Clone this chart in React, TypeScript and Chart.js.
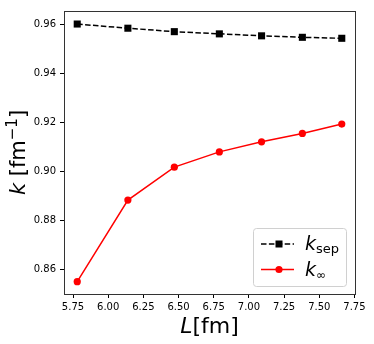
import React, { useEffect, useRef } from "react";
import { Chart, registerables } from "chart.js";

Chart.register(...registerables);

const L_VALUES = [5.78, 6.14, 6.47, 6.79, 7.09, 7.38, 7.66];
const K_SEP = [0.96, 0.9583, 0.9569, 0.956, 0.9552, 0.9546, 0.9542];
const K_INF = [0.8552, 0.8884, 0.9018, 0.908, 0.9121, 0.9155, 0.9193];
const X_TICKS = [5.75, 6.0, 6.25, 6.5, 6.75, 7.0, 7.25, 7.5, 7.75];
const Y_TICKS = [0.86, 0.88, 0.9, 0.92, 0.94, 0.96];

const FONT = "'DejaVu Sans', sans-serif";

function drawRuns(ctx: CanvasRenderingContext2D, runs: { t: string; font: string; dy?: number }[], x: number, y: number, align: "center" | "left") {
  let total = 0;
  for (const r of runs) {
    ctx.font = r.font;
    total += ctx.measureText(r.t).width;
  }
  let cx = align === "center" ? x - total / 2 : x;
  for (const r of runs) {
    ctx.font = r.font;
    ctx.fillText(r.t, cx, y + (r.dy || 0));
    cx += ctx.measureText(r.t).width;
  }
}

const decor = {
  id: "decor",
  afterDraw(chart: any) {
    const { ctx, chartArea: a } = chart;
    ctx.save();
    // frame
    ctx.strokeStyle = "#333";
    ctx.lineWidth = 1;
    ctx.strokeRect(Math.round(a.left) + 0.5, Math.round(a.top) + 0.5, Math.round(a.right - a.left), Math.round(a.bottom - a.top));

    ctx.fillStyle = "#000";
    ctx.textBaseline = "alphabetic";
    // x label
    drawRuns(
      ctx,
      [
        { t: "L", font: `italic 22px ${FONT}` },
        { t: "[fm]", font: `22px ${FONT}` },
      ],
      (a.left + a.right) / 2,
      333,
      "center"
    );
    // y label
    ctx.save();
    ctx.translate(25, (a.top + a.bottom) / 2);
    ctx.rotate(-Math.PI / 2);
    drawRuns(
      ctx,
      [
        { t: "k", font: `italic 21px ${FONT}` },
        { t: " [fm", font: `21px ${FONT}` },
        { t: "\u22121", font: `15px ${FONT}`, dy: -8 },
        { t: "]", font: `21px ${FONT}` },
      ],
      0,
      0,
      "center"
    );
    ctx.restore();

    // legend
    const bx = 253.5, by = 228.5, bw = 93, bh = 58, r = 3;
    ctx.beginPath();
    ctx.moveTo(bx + r, by);
    ctx.lineTo(bx + bw - r, by);
    ctx.quadraticCurveTo(bx + bw, by, bx + bw, by + r);
    ctx.lineTo(bx + bw, by + bh - r);
    ctx.quadraticCurveTo(bx + bw, by + bh, bx + bw - r, by + bh);
    ctx.lineTo(bx + r, by + bh);
    ctx.quadraticCurveTo(bx, by + bh, bx, by + bh - r);
    ctx.lineTo(bx, by + r);
    ctx.quadraticCurveTo(bx, by, bx + r, by);
    ctx.closePath();
    ctx.fillStyle = "rgba(255,255,255,0.8)";
    ctx.fill();
    ctx.strokeStyle = "#d0d0d0";
    ctx.lineWidth = 1;
    ctx.stroke();

    // entry 1
    const y1 = 244, y2 = 269.5;
    ctx.strokeStyle = "#000";
    ctx.lineWidth = 1.5;
    ctx.setLineDash([5.5, 2.4]);
    ctx.beginPath();
    ctx.moveTo(261, y1);
    ctx.lineTo(294, y1);
    ctx.stroke();
    ctx.setLineDash([]);
    ctx.fillStyle = "#000";
    ctx.fillRect(279 - 3.5, y1 - 3.5, 7, 7);
    // entry 2
    ctx.strokeStyle = "#ff0000";
    ctx.beginPath();
    ctx.moveTo(261, y2);
    ctx.lineTo(294, y2);
    ctx.stroke();
    ctx.fillStyle = "#ff0000";
    ctx.beginPath();
    ctx.arc(279, y2, 3.6, 0, Math.PI * 2);
    ctx.fill();

    ctx.fillStyle = "#000";
    drawRuns(ctx, [
      { t: "k", font: `italic 19px ${FONT}` },
      { t: "sep", font: `13px ${FONT}`, dy: 3 },
    ], 305, y1 + 6, "left");
    drawRuns(ctx, [
      { t: "k", font: `italic 19px ${FONT}` },
      { t: "\u221E", font: `12px ${FONT}`, dy: 3 },
    ], 305, y2 + 6, "left");
    ctx.restore();
  },
};

export default function App() {
  const ref = useRef<HTMLCanvasElement | null>(null);
  useEffect(() => {
    if (!ref.current) return;
    const chart = new Chart(ref.current, {
      type: "line",
      data: {
        datasets: [
          {
            label: "k_sep",
            data: L_VALUES.map((x, i) => ({ x, y: K_SEP[i] })),
            borderColor: "#000",
            backgroundColor: "#000",
            borderWidth: 1.5,
            borderDash: [5.5, 2.4],
            pointStyle: "rect",
            pointRadius: 5,
            pointBorderWidth: 0,
            tension: 0,
          },
          {
            label: "k_inf",
            data: L_VALUES.map((x, i) => ({ x, y: K_INF[i] })),
            borderColor: "#ff0000",
            backgroundColor: "#ff0000",
            borderWidth: 1.5,
            pointStyle: "circle",
            pointRadius: 3.6,
            pointBorderWidth: 0,
            tension: 0,
          },
        ],
      },
      options: {
        responsive: false,
        animation: false,
        layout: { padding: { left: 0, top: 11, right: 19, bottom: 0 } },
        plugins: { legend: { display: false }, tooltip: { enabled: false } },
        scales: {
          x: {
            type: "linear",
            min: 5.686,
            max: 7.754,
            afterBuildTicks: (s: any) => {
              s.ticks = X_TICKS.map((v) => ({ value: v }));
            },
            afterFit: (s: any) => {
              s.height = 50;
            },
            grid: { drawOnChartArea: false, drawTicks: true, tickLength: 4, color: "#000" },
            border: { display: false },
            ticks: {
              font: { family: FONT, size: 10 },
              color: "#000",
              padding: 3,
              maxRotation: 0,
              autoSkip: false,
              callback: (v: any) => Number(v).toFixed(2),
            },
          },
          y: {
            type: "linear",
            min: 0.8502,
            max: 0.9653,
            afterBuildTicks: (s: any) => {
              s.ticks = Y_TICKS.map((v) => ({ value: v }));
            },
            afterFit: (s: any) => {
              s.width = 64;
            },
            grid: { drawOnChartArea: false, drawTicks: true, tickLength: 4, color: "#000" },
            border: { display: false },
            ticks: {
              font: { family: FONT, size: 10 },
              color: "#000",
              padding: 4,
              autoSkip: false,
              callback: (v: any) => Number(v).toFixed(2),
            },
          },
        },
      },
      plugins: [decor],
    } as any);
    return () => chart.destroy();
  }, []);
  return (
    <div style={{ position: "fixed", left: 0, top: 0, width: 374, height: 344, background: "#fff" }}>
      <canvas ref={ref} width={374} height={344} style={{ display: "block", width: 374, height: 344 }} />
    </div>
  );
}
